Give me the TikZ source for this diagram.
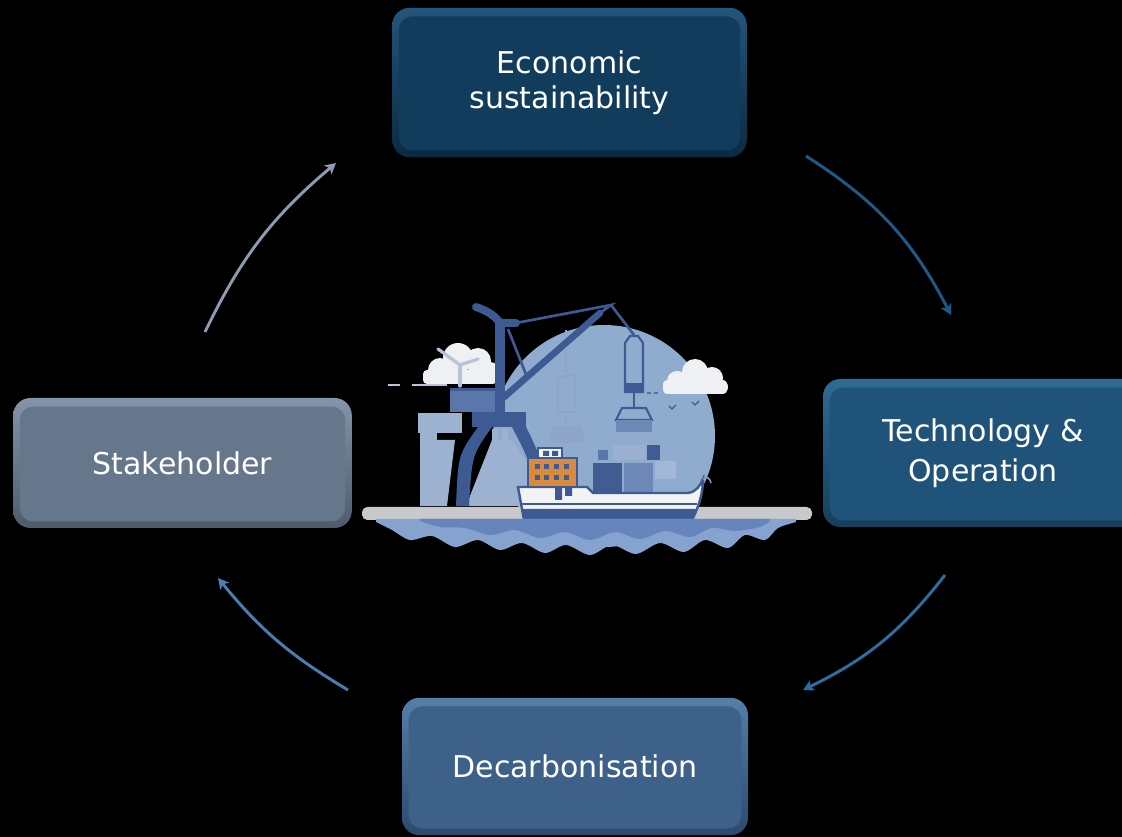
\documentclass[tikz,border=0pt]{standalone}
\usepackage{fontspec}
\setmainfont{DejaVu Sans}
\usetikzlibrary{arrows.meta}
\definecolor{ecoT}{HTML}{24557A}
\definecolor{ecoB}{HTML}{0A2A42}
\definecolor{ecoM}{HTML}{113C5C}
\definecolor{tecT}{HTML}{2F6B94}
\definecolor{tecB}{HTML}{153E5C}
\definecolor{tecM}{HTML}{1F5379}
\definecolor{staT}{HTML}{8494A9}
\definecolor{staB}{HTML}{4D5B6D}
\definecolor{staM}{HTML}{66768B}
\definecolor{decT}{HTML}{557EA8}
\definecolor{decB}{HTML}{2B4A6D}
\definecolor{decM}{HTML}{3E618A}
\definecolor{arA}{HTML}{1D5A87}
\definecolor{arB}{HTML}{2B6EA3}
\definecolor{arC}{HTML}{4A7DB2}
\definecolor{arD}{HTML}{8C9BAF}
\definecolor{circ}{HTML}{8FABCD}
\definecolor{crane}{HTML}{3D5A93}
\definecolor{midb}{HTML}{5A76AA}
\definecolor{faded}{HTML}{9DB2D1}
\definecolor{cloud}{HTML}{EEF0F4}
\definecolor{ground}{HTML}{C8C9CC}
\definecolor{hullw}{HTML}{F2F3F5}
\definecolor{orng}{HTML}{D98A3C}
\definecolor{wat1}{HTML}{86A2CE}
\definecolor{wat2}{HTML}{6585BC}
\definecolor{cA}{HTML}{3F5C93}
\definecolor{cB}{HTML}{6D87B6}
\definecolor{cC}{HTML}{A3B7D6}
\definecolor{turb}{HTML}{B7C3D6}
\tikzset{
  pbox/.style={rounded corners=13pt, text=white, align=center, inner sep=0pt,
    font=\fontsize{22.5}{26}\selectfont},
  bevel/.style={path picture={\fill[#1, rounded corners=10pt]
    ([shift={(5pt,5pt)}]path picture bounding box.south west) rectangle
    ([shift={(-5pt,-6.5pt)}]path picture bounding box.north east);}},
  cyc/.style={line width=2.2pt, -{Stealth[length=8pt,width=8.5pt,inset=2pt]}},
  outl/.style={draw=crane, line width=1.6pt},
}
\begin{document}
\begin{tikzpicture}[x=0.75pt,y=-0.75pt]
\fill[black] (0,0) rectangle (1122,837);
\useasboundingbox (0,0) rectangle (1122,837);
\begin{scope}
\clip (0,0) rectangle (1122,837);

% ---------- boxes ----------
\node[pbox, minimum width=266pt, minimum height=112pt, top color=ecoT, bottom color=ecoB, bevel=ecoM, font=\fontsize{22.5}{26.5}\selectfont] (eco) at (569.5,82.5) {Economic\\sustainability};
\node[pbox, minimum width=240pt, minimum height=111pt, top color=tecT, bottom color=tecB, bevel=tecM, font=\fontsize{22.5}{30}\selectfont] (tec) at (983,453) {Technology \&\\Operation};
\node[pbox, minimum width=254pt, minimum height=97.5pt, top color=staT, bottom color=staB, bevel=staM] (sta) at (182.5,463) {Stakeholder};
\node[pbox, minimum width=259.5pt, minimum height=103pt, top color=decT, bottom color=decB, bevel=decM] (dec) at (575,766.5) {Decarbonisation};

% ---------- cycle arrows ----------
\coordinate (a1s) at (806,156);  \coordinate (a1e) at (951,315);
\coordinate (a2s) at (945,575);  \coordinate (a2e) at (803,690);
\coordinate (a3s) at (348,690);  \coordinate (a3e) at (218,578);
\coordinate (a4s) at (205,332);  \coordinate (a4e) at (336,163);
\draw[cyc, arA] (a1s) to[bend left=15] (a1e);
\draw[cyc, arB] (a2s) to[bend left=13] (a2e);
\draw[cyc, arC] (a3s) to[bend left=10] (a3e);
\draw[cyc, arD] (a4s) to[bend left=12] (a4e);

% ---------- central illustration ----------
\fill[circ] (604,436) circle (111);
% faded background crane / hook
\fill[faded] (418,413) rectangle (462,433);
\fill[faded] (420,433) rectangle (437,506);
\fill[faded] (437,440) -- (455,440) -- (447,506) -- (437,506) -- cycle;
\draw[faded!85!crane, line width=1.5pt] (566,330) -- (566,373);
\draw[faded!85!crane, line width=1.5pt, fill=circ] (558,376) rectangle (575,412);
\draw[faded!85!crane, line width=1.5pt] (566,412) -- (566,424);
\fill[faded!85!crane] (552,427) -- (582,427) -- (584,443) -- (550,443) -- cycle;
% left cloud with wind turbine
\fill[cloud, rounded corners=3pt] (423,370) rectangle (497,384);
\fill[cloud] (440,370) circle (12) (458,358) circle (15) (478,361) circle (13) (490,372) circle (10);
\draw[turb, line width=2.4pt, line cap=round] (460,365) -- (460,386);
\draw[turb, line width=2.4pt, line cap=round] (438,349) -- (460,365) -- (478,359);
\draw[turb, line width=1.6pt] (388,385) -- (400,385) (412,385) -- (447,385);
% right cloud
\fill[cloud, rounded corners=3pt] (663,380) rectangle (727,394);
\fill[cloud] (677,381) circle (10) (695,372) circle (13) (712,378) circle (11) (721,387) circle (7);
% birds and dashes
\draw[crane, line width=1pt] (669,406) -- (672,409) -- (676,405) (692,402) -- (695,405) -- (699,401);
\draw[crane!70!circ, line width=1.4pt] (647,393) -- (651,393) (654,393) -- (658,393);
% crane platform and mast
\fill[midb] (450,388) rectangle (497,412);
\fill[crane] (450,388) rectangle (497,391);
\fill[crane] (495,320) rectangle (505,416);
\draw[crane, line width=6pt, line cap=round] (476,307) .. controls (488,311) and (495,316) .. (500,323) -- (516,323);
% boom and cables
\draw[crane, line width=5pt, line cap=round] (503,398) -- (600,313);
\draw[crane, line width=2pt] (516,323) -- (611,305) -- (600,313);
\draw[crane, line width=2pt] (611,305) -- (634,335);
\draw[crane, line width=2pt] (508,329) -- (527,377);
% hook
\draw[outl, fill=circ] (625,343) -- (630,336) -- (638,336) -- (643,343) -- (643,392) -- (625,392) -- cycle;
\fill[crane] (625,383) rectangle (643,392);
\draw[crane, line width=1.6pt] (634,392) -- (634,408);
\draw[outl, fill=circ] (622,408) -- (646,408) -- (652,420) -- (616,420) -- cycle;
\fill[cB] (616,420) rectangle (652,432);
% portal
\fill[faded] (492,440) -- (512,440) -- (532,470) -- (532,506) -- (466,506) -- cycle;
\fill[crane] (472,412) rectangle (526,427);
\fill[crane] (478,427) -- (492,427) .. controls (472,455) .. (469,506) -- (456,506) .. controls (458,455) .. (478,427) -- cycle;
\fill[crane] (512,427) -- (526,427) .. controls (535,445) .. (545,472) -- (532,472) .. controls (525,452) .. (512,427) -- cycle;
\fill[faded] (492,429) rectangle (498,440) (502,429) rectangle (508,440);
% quay
\fill[ground, rounded corners=4pt] (362,507) rectangle (812,520);
% containers
\fill[cC] (655,461) rectangle (676,479);
\fill[cA] (593,463) rectangle (622,493);
\fill[cB] (624,463) rectangle (653,493);
\fill[midb] (598,450) rectangle (608,460);
\fill[cC!85!cB] (613,445) rectangle (645,460);
\fill[cA] (647,445) rectangle (660,460);
% ship hull
\filldraw[fill=hullw, draw=crane, line width=1.8pt] (518,487) -- (587,487) -- (593,493) -- (688,493) .. controls (696,492) and (700,486) .. (703,479) .. controls (703,495) and (698,508) .. (692,520) -- (524,520) -- cycle;
\fill[crane] (521,509) -- (696,509) -- (692,520) -- (524,520) -- cycle;
\draw[crane, line width=0.8pt] (520,504) -- (697,504);
\draw[crane!60!hullw, line width=1.2pt] (703,479) .. controls (707,476) and (710,478) .. (711,483);
% bridge
\fill[crane] (555,486) rectangle (562,500) (565,486) rectangle (572,496);
\draw[outl, fill=hullw] (538,448) rectangle (562,459);
\fill[crane] (543,451) rectangle (549,456) (552,451) rectangle (558,456);
\draw[outl, fill=orng] (528,458) rectangle (577,487);
\foreach \xx in {537,546,556,566}{
  \foreach \yy in {467,478}{
    \fill[crane] (\xx-2.5,\yy-2.5) rectangle (\xx+2.5,\yy+2.5);
  }
}
% water
\fill[wat1] (376,519) -- (796,519) -- plot[smooth] coordinates {(796,522) (778,528) (765,540) (745,535) (728,548) (705,540) (684,552) (660,543) (636,554) (612,545) (590,555) (566,545) (545,553) (522,543) (500,550) (478,540) (455,547) (432,536) (410,540) (392,530) (376,522)} -- cycle;
\fill[wat2] (420,519) -- (770,519) -- plot[smooth] coordinates {(770,521) (760,527) (735,531) (712,528) (690,537) (665,531) (640,539) (615,532) (590,540) (565,532) (540,538) (515,530) (490,535) (465,528) (440,527) (420,521)} -- cycle;
\end{scope}
\end{tikzpicture}
\end{document}
